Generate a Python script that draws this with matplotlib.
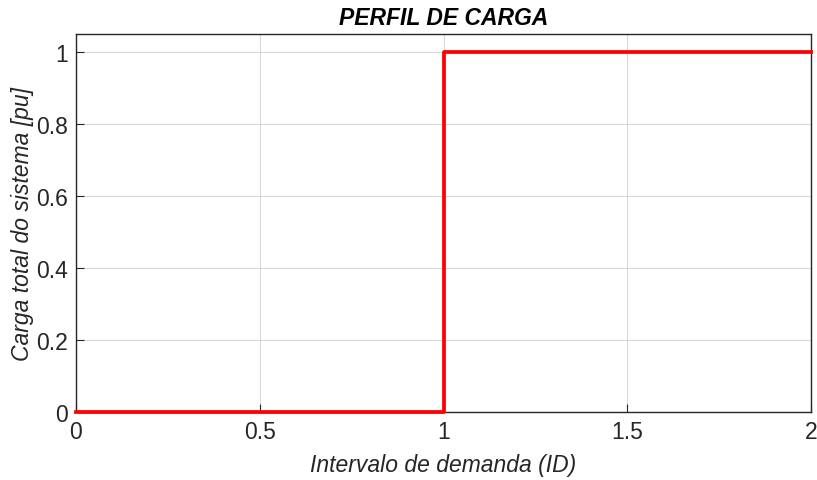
import matplotlib
matplotlib.use("Agg")
import matplotlib.pyplot as plt

x_vals = [0, 1, 1, 2]
y_vals = [0, 0, 1, 1]
x_ticks = [0, 0.5, 1, 1.5, 2]
x_ticklabels = ["0", "0.5", "1", "1.5", "2"]
y_ticks = [0, 0.2, 0.4, 0.6, 0.8, 1]
y_ticklabels = ["0", "0.2", "0.4", "0.6", "0.8", "1"]

plt.rcParams['font.family'] = ['Liberation Sans', 'DejaVu Sans']
fig = plt.figure(figsize=(8.17, 4.81), dpi=100)
ax = fig.add_axes([76/817, 1 - 413/481, (811-76)/817, (413-35)/481])
tc = '#262626'
ax.plot(x_vals, y_vals, color='#ff0000', linewidth=2.7, clip_on=False, zorder=3)
ax.set_xlim(0, 2)
ax.set_ylim(0, 1.05)
ax.set_xticks(x_ticks)
ax.set_xticklabels(x_ticklabels)
ax.set_yticks(y_ticks)
ax.set_yticklabels(y_ticklabels)
ax.grid(True, color='#d8d8d8', linewidth=0.8)
ax.set_axisbelow(True)
ax.tick_params(direction='in', length=6, width=0.8, colors=tc, labelsize=16.5, pad=6)
for s in ax.spines.values():
    s.set_color(tc)
    s.set_linewidth(1.0)
ax.set_xlabel('Intervalo de demanda (ID)', fontsize=16.5, style='italic', color=tc, labelpad=7)
ax.set_ylabel('Carga total do sistema [pu]', fontsize=16.5, style='italic', color=tc, labelpad=1)
ax.set_title('PERFIL DE CARGA', fontsize=16.5, style='italic', fontweight='bold', color='black', pad=7)
fig.savefig('out.png', dpi=100)
